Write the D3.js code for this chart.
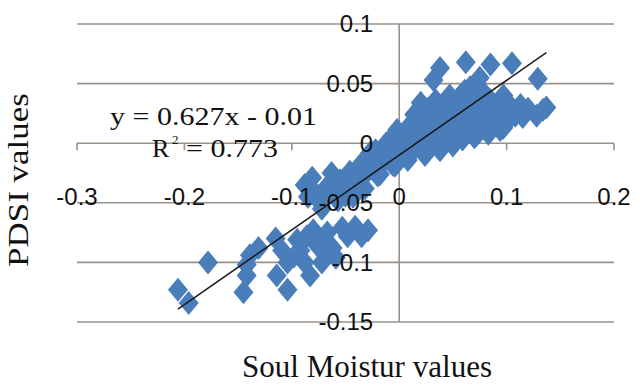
<!DOCTYPE html>
<html>
<head>
<meta charset="utf-8">
<script src="https://cdn.jsdelivr.net/npm/d3@7"></script>
<style>
    html, body { margin: 0; padding: 0; background: #fff; }
    svg { display: block; }
</style>
</head>
<body>
<svg id="chart-svg" width="640" height="388"></svg>
<script>
// Soil moisture (x) vs PDSI (y), one entry per point
const soilMoisture = [
    -0.206, -0.196, -0.178, -0.145, -0.142, -0.142, -0.139, -0.131, -0.115, -0.109,
    -0.114, -0.104, -0.104, -0.095, -0.080, -0.067, -0.053, -0.041, -0.029, -0.092,
    -0.076, -0.062, -0.083, -0.072, -0.059, -0.086, -0.070, -0.048, -0.035, -0.098,
    -0.088, -0.066,
    -0.088, -0.081, -0.075, -0.072, -0.078, -0.066, -0.060, -0.055, -0.050, -0.046,
    -0.041, -0.036, -0.034, -0.029, -0.025, -0.022, -0.020, -0.015, -0.010, -0.008,
    -0.006, -0.002, 0.001, 0.004, 0.006, 0.008, 0.010, 0.013, 0.017, 0.020,
    0.021, 0.024, 0.027, 0.029, 0.032, 0.034, 0.036, 0.038, 0.041, 0.044,
    0.047, 0.049, 0.052, 0.055, 0.059, 0.061, 0.063, 0.066, 0.069, 0.072,
    0.075, 0.078, 0.081, 0.085, 0.088, 0.091, 0.094, 0.097, 0.101, 0.103,
    0.108, 0.113, 0.115, 0.120, 0.128, 0.134,
    -0.085, -0.070, -0.063, -0.057, -0.048, -0.043, -0.038, -0.032, -0.027, -0.018,
    -0.012, -0.004, 0.002, 0.011, 0.014, 0.025, 0.028, 0.033, 0.040, 0.046,
    0.050, 0.053, 0.057, 0.060, 0.064, 0.068, 0.070, 0.073, 0.077, 0.080,
    0.083, 0.086, 0.090, 0.093, 0.096, 0.100, 0.110,
    0.038, 0.062, 0.085, 0.105, 0.129, 0.032, 0.075, 0.066, 0.020, 0.043,
    0.074, 0.097, 0.137
];
const pdsi = [
    -0.123, -0.134, -0.100, -0.125, -0.111, -0.102, -0.094, -0.088, -0.080, -0.090,
    -0.111, -0.123, -0.100, -0.081, -0.073, -0.075, -0.071, -0.070, -0.073, -0.090,
    -0.086, -0.088, -0.111, -0.100, -0.096, -0.078, -0.082, -0.078, -0.078, -0.095,
    -0.100, -0.093,
    -0.035, -0.029, -0.048, -0.055, -0.042, -0.035, -0.039, -0.031, -0.044, -0.024,
    -0.035, -0.018, -0.029, -0.023, -0.013, -0.006, -0.027, -0.016, -0.006, 0.003,
    -0.018, 0.011, -0.010, -0.002, 0.007, -0.014, 0.015, -0.006, 0.003, 0.021,
    0.011, -0.010, 0.029, 0.003, 0.018, 0.036, 0.011, -0.006, 0.026, 0.003,
    0.040, 0.019, 0.011, 0.032, 0.003, 0.044, 0.023, 0.015, 0.036, 0.007,
    0.028, 0.043, 0.015, 0.036, 0.021, 0.028, 0.011, 0.040, 0.019, 0.032,
    0.023, 0.032, 0.022, 0.029, 0.023, 0.028,
    -0.045, -0.040, -0.025, -0.048, -0.030, -0.045, -0.028, -0.038, -0.008, -0.026,
    0.000, -0.019, 0.002, -0.004, 0.024, 0.002, 0.015, 0.005, 0.015, 0.028,
    -0.002, 0.022, 0.040, 0.012, 0.033, 0.025, 0.005, 0.044, 0.018, 0.033,
    0.008, 0.026, 0.015, 0.035, 0.022, 0.030, 0.028,
    0.063, 0.068, 0.066, 0.067, 0.054, 0.053, 0.055, 0.047, 0.034, 0.008,
    0.009, 0.013, 0.030
];

const xTicks = [-0.3, -0.2, -0.1, 0, 0.1, 0.2];
const xTickLabels = ['-0.3', '-0.2', '-0.1', '0', '0.1', '0.2'];
const yTicks = [-0.15, -0.1, -0.05, 0, 0.05, 0.1];
const yTickLabels = ['-0.15', '-0.1', '-0.05', '0', '0.05', '0.1'];

const slope = 0.627;
const intercept = -0.01;

const gridColor = '#9a918a';
const markerColor = '#4a7ebb';

const svg = d3.select('#chart-svg');

const x = d3.scaleLinear().domain([-0.3, 0.2]).range([77, 614]);
const y = d3.scaleLinear().domain([-0.15, 0.1]).range([322, 24]);

// Horizontal gridlines
svg.append('g')
    .selectAll('line')
    .data(yTicks)
    .enter().append('line')
    .attr('x1', x(-0.3))
    .attr('x2', x(0.2))
    .attr('y1', d => y(d))
    .attr('y2', d => y(d))
    .attr('stroke', gridColor)
    .attr('stroke-width', 1.6);

// Vertical axis through zero
svg.append('line')
    .attr('x1', x(0)).attr('x2', x(0))
    .attr('y1', y(0.1)).attr('y2', y(-0.15))
    .attr('stroke', gridColor)
    .attr('stroke-width', 1.6);

// x axis tick marks hanging below the zero line
svg.append('g')
    .selectAll('line')
    .data(xTicks)
    .enter().append('line')
    .attr('x1', d => x(d))
    .attr('x2', d => x(d))
    .attr('y1', y(0))
    .attr('y2', y(0) + 7)
    .attr('stroke', gridColor)
    .attr('stroke-width', 1.6);

// Diamond markers
const hw = 10, hh = 12;
const diamond = `M0,${-hh}L${hw},0L0,${hh}L${-hw},0Z`;

svg.append('g')
    .selectAll('path')
    .data(soilMoisture.map((d, i) => [d, pdsi[i]]))
    .enter().append('path')
    .attr('d', diamond)
    .attr('transform', d => `translate(${x(d[0])},${y(d[1])})`)
    .attr('fill', markerColor);

// Linear trendline over the data range
const [xMin, xMax] = d3.extent(soilMoisture);
svg.append('line')
    .attr('x1', x(xMin))
    .attr('y1', y(slope * xMin + intercept))
    .attr('x2', x(xMax))
    .attr('y2', y(slope * xMax + intercept))
    .attr('stroke', '#1a1a1a')
    .attr('stroke-width', 1.5);

// Tick labels (drawn on top of the markers)
const tickFont = '"Liberation Sans", Arial, sans-serif';

svg.append('g')
    .selectAll('text')
    .data(xTicks)
    .enter().append('text')
    .attr('x', d => x(d))
    .attr('y', 205)
    .attr('text-anchor', 'middle')
    .style('font-family', tickFont)
    .style('font-size', '24px')
    .attr('fill', '#111')
    .text((d, i) => xTickLabels[i]);

svg.append('g')
    .selectAll('text')
    .data(yTicks)
    .enter().append('text')
    .attr('x', x(0) - 26)
    .attr('y', d => y(d))
    .attr('dy', '0.35em')
    .attr('text-anchor', 'end')
    .style('font-family', tickFont)
    .style('font-size', '24px')
    .attr('fill', '#111')
    .text((d, i) => yTickLabels[i]);

// Axis titles and trendline equation
const serif = '"Liberation Serif", "Times New Roman", serif';

svg.append('text')
    .attr('transform', 'translate(28,180) rotate(-90)')
    .attr('text-anchor', 'middle')
    .attr('textLength', 174)
    .attr('lengthAdjust', 'spacingAndGlyphs')
    .style('font-family', serif)
    .style('font-size', '30px')
    .attr('fill', '#111')
    .text('PDSI values');

svg.append('text')
    .attr('x', 242)
    .attr('y', 377)
    .attr('textLength', 250)
    .attr('lengthAdjust', 'spacingAndGlyphs')
    .style('font-family', serif)
    .style('font-size', '32px')
    .attr('fill', '#111')
    .text('Soul Moistur values');

svg.append('text')
    .attr('x', 110)
    .attr('y', 125)
    .attr('textLength', 207)
    .attr('lengthAdjust', 'spacingAndGlyphs')
    .style('font-family', serif)
    .style('font-size', '26px')
    .attr('fill', '#111')
    .text(`y = ${slope}x - ${Math.abs(intercept)}`);

const r2 = svg.append('g').style('font-family', serif).attr('fill', '#111');
r2.append('text')
    .attr('x', 152).attr('y', 157)
    .style('font-size', '26px')
    .text('R');
r2.append('text')
    .attr('x', 172).attr('y', 144)
    .style('font-size', '13px')
    .text('2');
r2.append('text')
    .attr('x', 186).attr('y', 157)
    .attr('textLength', 92)
    .attr('lengthAdjust', 'spacingAndGlyphs')
    .style('font-size', '26px')
    .text('= 0.773');
</script>
</body>
</html>
